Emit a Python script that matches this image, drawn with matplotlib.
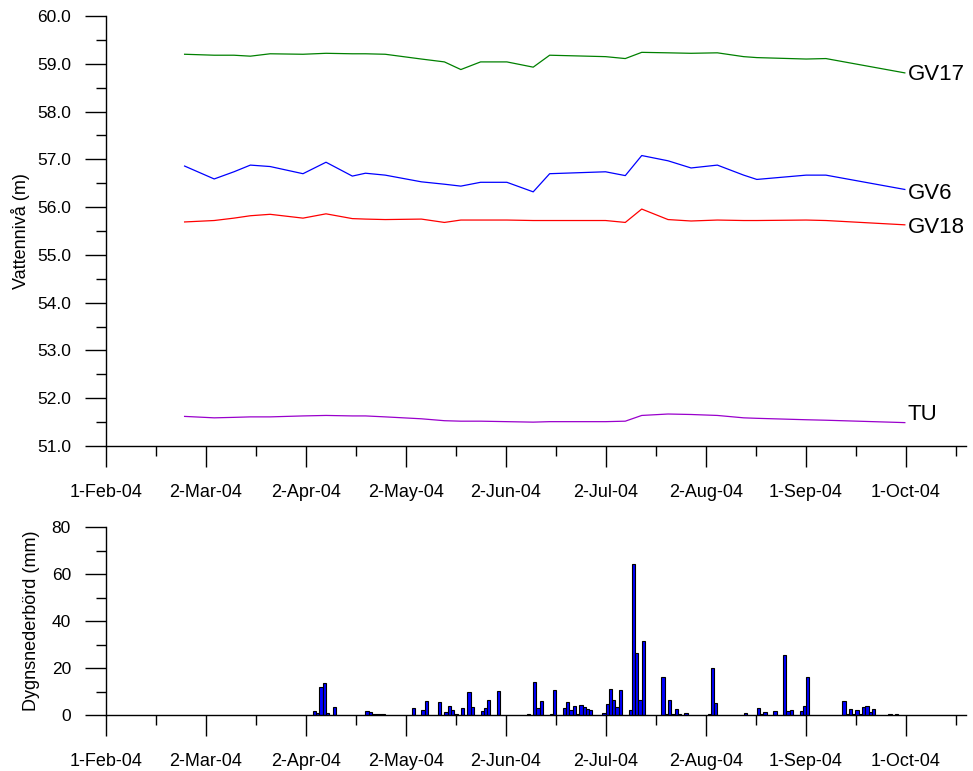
import numpy as np
import matplotlib
matplotlib.use("Agg")
import matplotlib.pyplot as plt
import matplotlib.dates as mdates
from matplotlib.ticker import MultipleLocator, FixedLocator

plt.rcParams['font.family'] = ['Liberation Sans', 'DejaVu Sans']

# --- groundwater levels (m) ---
level_dates = ['2004-02-25', '2004-03-05', '2004-03-11', '2004-03-16', '2004-03-22',
               '2004-04-01', '2004-04-08', '2004-04-16', '2004-04-20', '2004-04-26',
               '2004-05-07', '2004-05-14', '2004-05-19', '2004-05-25', '2004-06-02',
               '2004-06-10', '2004-06-15', '2004-07-02', '2004-07-08', '2004-07-13',
               '2004-07-21', '2004-07-28', '2004-08-05', '2004-08-13', '2004-08-17',
               '2004-09-01', '2004-09-07', '2004-10-01']
gv17 = [59.20, 59.18, 59.18, 59.16, 59.21, 59.20, 59.22, 59.21, 59.21, 59.20,
        59.10, 59.04, 58.88, 59.04, 59.04, 58.93, 59.18, 59.15, 59.11, 59.24,
        59.23, 59.22, 59.23, 59.15, 59.13, 59.10, 59.11, 58.81]
gv6 = [56.86, 56.59, 56.74, 56.88, 56.85, 56.70, 56.94, 56.65, 56.71, 56.67,
       56.53, 56.48, 56.44, 56.52, 56.52, 56.32, 56.70, 56.74, 56.66, 57.08,
       56.97, 56.82, 56.88, 56.67, 56.58, 56.67, 56.67, 56.37]
gv18 = [55.69, 55.72, 55.77, 55.82, 55.85, 55.77, 55.86, 55.76, 55.75, 55.74,
        55.75, 55.68, 55.73, 55.73, 55.73, 55.72, 55.72, 55.72, 55.68, 55.96,
        55.74, 55.71, 55.73, 55.72, 55.72, 55.73, 55.72, 55.63]
tu = [51.62, 51.59, 51.60, 51.61, 51.61, 51.63, 51.64, 51.63, 51.63, 51.61,
      51.57, 51.53, 51.52, 51.52, 51.51, 51.50, 51.51, 51.51, 51.52, 51.64,
      51.67, 51.66, 51.64, 51.59, 51.58, 51.55, 51.54, 51.49]

# --- daily precipitation (mm) ---
rain_dates = ['2004-04-04', '2004-04-05', '2004-04-06', '2004-04-07', '2004-04-08',
              '2004-04-10', '2004-04-20', '2004-04-21', '2004-04-22', '2004-04-23',
              '2004-04-24', '2004-04-25', '2004-05-04', '2004-05-07', '2004-05-08',
              '2004-05-12', '2004-05-14', '2004-05-15', '2004-05-16', '2004-05-17',
              '2004-05-19', '2004-05-21', '2004-05-22', '2004-05-25', '2004-05-26',
              '2004-05-27', '2004-05-30', '2004-06-08', '2004-06-10', '2004-06-11',
              '2004-06-12', '2004-06-15', '2004-06-16', '2004-06-19', '2004-06-20',
              '2004-06-21', '2004-06-22', '2004-06-23', '2004-06-24', '2004-06-25',
              '2004-06-26', '2004-06-27', '2004-07-01', '2004-07-02', '2004-07-03',
              '2004-07-04', '2004-07-05', '2004-07-06', '2004-07-09', '2004-07-10',
              '2004-07-11', '2004-07-12', '2004-07-13', '2004-07-19', '2004-07-20',
              '2004-07-21', '2004-07-22', '2004-07-23', '2004-07-24', '2004-07-26',
              '2004-08-02', '2004-08-03', '2004-08-04', '2004-08-13', '2004-08-17',
              '2004-08-18', '2004-08-19', '2004-08-22', '2004-08-25', '2004-08-26',
              '2004-08-27', '2004-08-30', '2004-08-31', '2004-09-01', '2004-09-12',
              '2004-09-13', '2004-09-14', '2004-09-15', '2004-09-16', '2004-09-17',
              '2004-09-18', '2004-09-19', '2004-09-20', '2004-09-21', '2004-09-26',
              '2004-09-28']
rain = [1.8, 1.0, 11.8, 13.5, 0.9,
        3.4, 1.9, 1.3, 0.3, 0.6,
        0.3, 0.3, 3.1, 2.1, 6.0,
        5.7, 1.3, 3.8, 2.1, 0.4,
        3.0, 9.8, 3.4, 1.8, 2.8,
        6.4, 10.1, 0.4, 13.9, 3.1,
        5.8, 0.6, 10.8, 2.8, 5.5,
        2.0, 3.8, 0.5, 4.3, 3.4,
        2.6, 2.0, 1.0, 4.9, 11.2,
        6.5, 3.5, 10.6, 2.2, 64.4,
        26.5, 6.5, 31.5, 16.2, 0.5,
        6.4, 0.5, 2.4, 0.3, 0.9,
        0.5, 20.0, 5.1, 0.9, 3.0,
        0.5, 1.1, 1.7, 25.7, 1.7,
        2.0, 1.8, 3.7, 16.0, 6.0,
        0.3, 2.6, 0.3, 2.3, 0.3,
        3.5, 3.8, 1.4, 2.6, 0.3,
        0.3]

tick_labels = ['1-Feb-04', '2-Mar-04', '2-Apr-04', '2-May-04', '2-Jun-04',
               '2-Jul-04', '2-Aug-04', '1-Sep-04', '1-Oct-04']

series = [('GV17', gv17, '#008000', (2, -1)),
          ('GV6', gv6, '#0000ff', (2, -3)),
          ('GV18', gv18, '#ff0000', (2, -2)),
          ('TU', tu, '#9900cc', (2, 6))]

start = mdates.date2num(np.datetime64('2004-02-01'))
step = 365 / 12  # axis ticks every twelfth of a year
major = [start + k * step for k in range(len(tick_labels))]
minor = [start + (k + 0.5) * step for k in range(len(tick_labels))]
xmax = start + 261.6

fig = plt.figure(figsize=(9.73, 7.71), dpi=100)
ax1 = fig.add_axes([0.1086, 0.4215, 0.8842, 0.5577])
ax2 = fig.add_axes([0.1086, 0.0726, 0.8842, 0.2438])

x_lvl = mdates.date2num(np.array(level_dates, dtype='datetime64[D]'))
for name, vals, col, off in series:
    ax1.plot(x_lvl, vals, color=col, lw=0.9)
    ax1.annotate(name, (x_lvl[-1], vals[-1]), xytext=off, textcoords='offset points',
                 ha='left', va='center', fontsize=16)

ax1.set_ylim(51, 60)
ax1.yaxis.set_major_locator(MultipleLocator(1))
ax1.yaxis.set_minor_locator(MultipleLocator(0.5))
ax1.yaxis.set_major_formatter(lambda v, p: f"{v:.1f}")
ax1.set_ylabel("Vattennivå (m)", fontsize=13)
ax1.yaxis.set_label_coords(-0.088, 0.5)

x_rain = mdates.date2num(np.array(rain_dates, dtype='datetime64[D]'))
ax2.bar(x_rain, rain, width=1, align='edge', color='#0000ff', edgecolor='black', lw=0.8)
ax2.set_ylim(0, 80)
ax2.yaxis.set_major_locator(MultipleLocator(20))
ax2.yaxis.set_minor_locator(MultipleLocator(10))
ax2.set_ylabel("Dygnsnederbörd (mm)", fontsize=13)
ax2.yaxis.set_label_coords(-0.0764, 0.5)

for ax in (ax1, ax2):
    ax.set_xlim(start, xmax)
    ax.xaxis.set_major_locator(FixedLocator(major))
    ax.xaxis.set_minor_locator(FixedLocator(minor))
    ax.set_xticklabels(tick_labels)
    for s in ('top', 'right'):
        ax.spines[s].set_visible(False)
    for s in ('left', 'bottom'):
        ax.spines[s].set_linewidth(1.0)
    ax.tick_params(which='major', direction='out', length=15, width=1.0,
                   labelsize=12.5, pad=10)
    ax.tick_params(axis='x', which='major', labelsize=13, pad=12)
    ax.tick_params(which='minor', direction='out', length=7.5, width=1.0)

fig.savefig("out.png", dpi=100)
